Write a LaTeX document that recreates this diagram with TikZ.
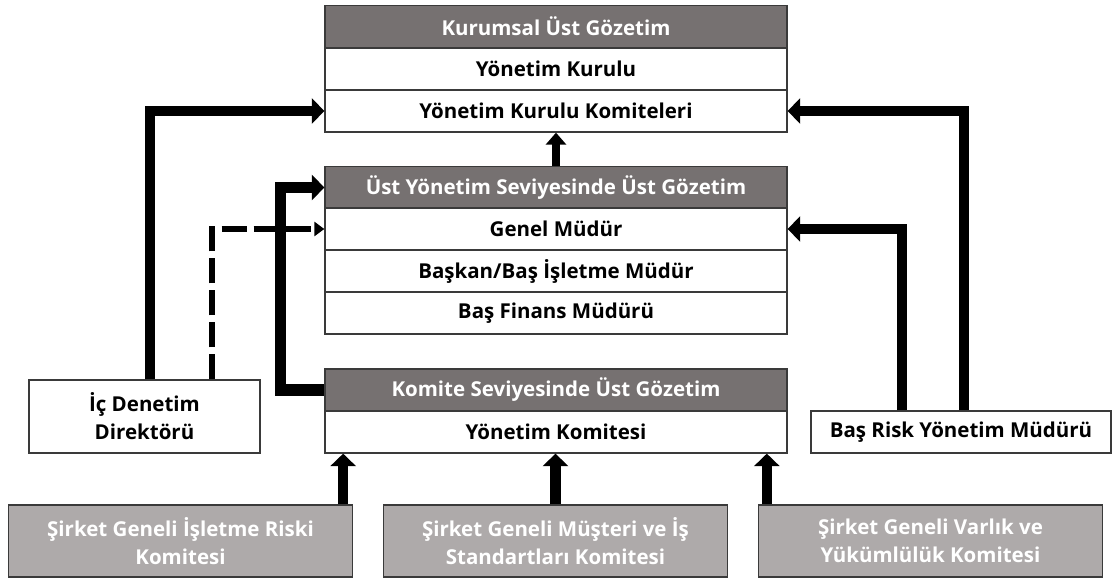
\documentclass[tikz,border=0pt]{standalone}
\usepackage{fontspec}
\setmainfont{Open Sans}
\usetikzlibrary{arrows.meta}
\definecolor{hdrc}{HTML}{767171}
\definecolor{botc}{HTML}{AEAAAA}
\definecolor{bordc}{HTML}{3A3A3A}
\tikzset{
  box/.style={draw=bordc, line width=1.3pt, inner sep=0pt, align=center,
    font=\bfseries\fontsize{20.5}{28}\selectfont},
  hdr/.style={box, fill=hdrc, text=white, minimum width=462pt, minimum height=42pt},
  rowbox/.style={box, fill=white, text=black, minimum width=462pt, minimum height=42pt},
  botbox/.style={box, fill=botc, text=white, minimum width=344pt, minimum height=72pt},
  bigarrow/.style={line width=10.5pt, line join=miter, -{Triangle[width=25pt,length=12.5pt]}},
  dasharrow/.style={line width=6pt, dash pattern=on 25pt off 7pt, -{Triangle[width=14pt,length=10pt]}},
}
\begin{document}
\begin{tikzpicture}[x=1pt,y=-1pt]
\useasboundingbox (0,0) rectangle (1112,580);
% top stack
\node[hdr] (kh) at (556,26.5) {Kurumsal Üst Gözetim};
\node[rowbox] (yk) at (556,69) {Yönetim Kurulu};
\node[rowbox] (ykk) at (556,111) {Yönetim Kurulu Komiteleri};
% middle stack
\node[hdr] (uh) at (556,187.5) {Üst Yönetim Seviyesinde Üst Gözetim};
\node[rowbox] (gm) at (556,229) {Genel Müdür};
\node[rowbox] (bm) at (556,271) {Başkan/Baş İşletme Müdür};
\node[rowbox] (bf) at (556,313) {Baş Finans Müdürü};
% lower stack
\node[hdr] (ch) at (556,390) {Komite Seviyesinde Üst Gözetim};
\node[rowbox] (ykom) at (556,432) {Yönetim Komitesi};
% side boxes
\node[box, fill=white, minimum width=231pt, minimum height=73pt] (ic) at (144.5,416.5) {İç Denetim\\Direktörü};
\node[box, fill=white, minimum width=300pt, minimum height=42pt] (br) at (961,432) {Baş Risk Yönetim Müdürü};
% bottom boxes
\node[botbox] (b1) at (180.5,541) {Şirket Geneli İşletme Riski\\Komitesi};
\node[botbox] (b2) at (555.5,541) {Şirket Geneli Müşteri ve İş\\Standartları Komitesi};
\node[botbox] (b3) at (930.5,541) {Şirket Geneli Varlık ve\\Yükümlülük Komitesi};
% connectors
\draw[bigarrow, line width=8.5pt, -{Triangle[width=20pt,length=12pt]}] (uh.north) -- (ykk.south);
\draw[bigarrow] ([xshift=5.5pt]ic.north) |- (ykk.west);
\draw[dasharrow] ([xshift=67.5pt]ic.north) |- (gm.west);
\draw[bigarrow, line width=11.5pt] (ch.west) -- ++(-44,0) |- (uh.west);
\draw[bigarrow, line width=9.5pt] ([xshift=3pt]br.north) |- (ykk.east);
\draw[bigarrow, line width=9.5pt] ([xshift=-59pt]br.north) |- (gm.east);
\draw[bigarrow] ([xshift=-10pt]b1.north east) -- ([xshift=-10pt]b1.north east |- ykom.south);
\draw[bigarrow] (b2.north) -- (b2.north |- ykom.south);
\draw[bigarrow] ([xshift=9pt]b3.north west) -- ([xshift=9pt]b3.north west |- ykom.south);
\end{tikzpicture}
\end{document}
